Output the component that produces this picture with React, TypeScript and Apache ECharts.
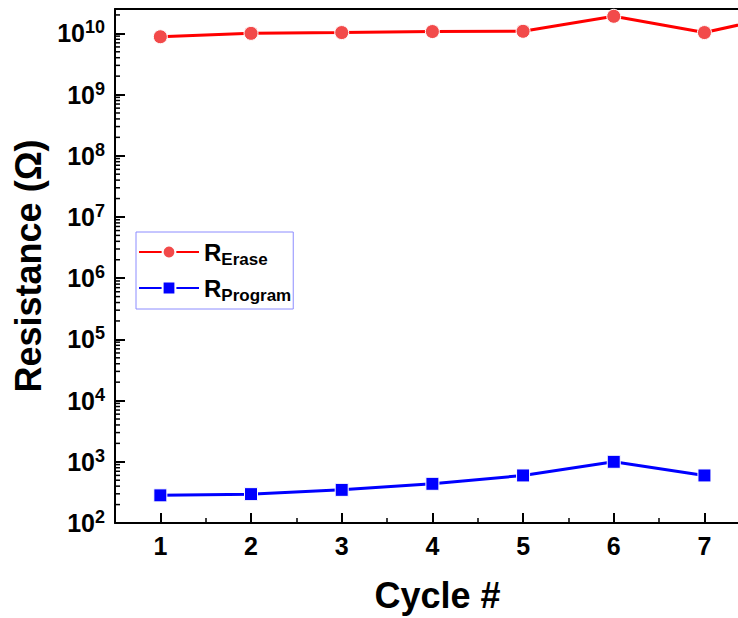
import React, { useEffect, useRef } from 'react';
import * as echarts from 'echarts';

// Cycle numbers and measured resistances (Ω)
const eraseCycles = [1, 2, 3, 4, 5, 6, 7, 8];
const eraseResistance = [8.8e9, 1.0e10, 1.03e10, 1.07e10, 1.08e10, 1.9e10, 1.03e10, 2.2e10];
const programCycles = [1, 2, 3, 4, 5, 6, 7];
const programResistance = [283, 296, 348, 437, 598, 1000, 598];

// Axis ticks
const cycleTicks = [1, 2, 3, 4, 5, 6, 7];
const cycleMinorTicks = [1.5, 2.5, 3.5, 4.5, 5.5, 6.5];
const decadeExponents = [2, 3, 4, 5, 6, 7, 8, 9, 10];
const minorMantissas = [2, 3, 4, 5, 6, 7, 8, 9];

const X_MIN = 0.5;
const X_MAX = 7.37;
const Y_MIN = 1e2;
const Y_MAX = 2.5e10;

const FONT = 'Arial, "Liberation Sans", Helvetica, sans-serif';

const logMinorTicks: number[] = [];
decadeExponents.forEach((e) => {
  minorMantissas.forEach((m) => {
    const v = m * Math.pow(10, e);
    if (v < Y_MAX) logMinorTicks.push(v);
  });
});

export default function App() {
  const ref = useRef<HTMLDivElement>(null);

  useEffect(() => {
    if (!ref.current) return;
    const chart = echarts.init(ref.current, null, { renderer: 'svg' });

    const option: any = {
      animation: false,
      backgroundColor: '#ffffff',
      grid: {
        left: 115,
        top: 9,
        right: 0,
        bottom: 93,
      },
      legend: {
        data: ['Erase', 'Program'],
        orient: 'vertical',
        left: 136,
        top: 232,
        itemWidth: 60,
        itemHeight: 16,
        itemGap: 8,
        padding: [8, 2, 5, 2],
        borderColor: '#8c8cff',
        borderWidth: 1,
        formatter: (name: string) => `{r|R}{s|${name}}`,
        textStyle: {
          fontFamily: FONT,
          rich: {
            r: { fontSize: 24, fontWeight: 'bold', color: '#000', lineHeight: 32, fontFamily: FONT },
            s: {
              fontSize: 17,
              fontWeight: 'bold',
              color: '#000',
              lineHeight: 16,
              verticalAlign: 'bottom',
              fontFamily: FONT,
            },
          },
        },
      },
      xAxis: [
        {
          type: 'value',
          min: X_MIN,
          max: X_MAX,
          name: 'Cycle #',
          nameLocation: 'middle',
          nameGap: 54,
          nameTextStyle: {
            fontFamily: FONT,
            fontSize: 36,
            fontWeight: 'bold',
            color: '#000',
            padding: [0, 0, 0, 22],
          },
          axisLine: { show: true, lineStyle: { color: '#000', width: 2 } },
          axisTick: {
            show: true,
            inside: true,
            length: 10,
            customValues: cycleTicks,
            lineStyle: { color: '#000', width: 2 },
          },
          axisLabel: {
            customValues: cycleTicks,
            margin: 10,
            fontFamily: FONT,
            fontSize: 25,
            fontWeight: 'bold',
            color: '#000',
          },
          splitLine: { show: false },
        },
        {
          type: 'value',
          min: X_MIN,
          max: X_MAX,
          position: 'bottom',
          axisLine: { show: false },
          axisTick: {
            show: true,
            inside: true,
            length: 5,
            customValues: cycleMinorTicks,
            lineStyle: { color: '#000', width: 1.5 },
          },
          axisLabel: { show: false },
          splitLine: { show: false },
        },
        {
          // top frame line
          type: 'value',
          min: X_MIN,
          max: X_MAX,
          position: 'top',
          axisLine: { show: true, lineStyle: { color: '#000', width: 2 } },
          axisTick: { show: false },
          axisLabel: { show: false },
          splitLine: { show: false },
        },
      ],
      yAxis: {
        type: 'log',
        logBase: 10,
        min: Y_MIN,
        max: Y_MAX,
        interval: 1,
        name: 'Resistance (Ω)',
        nameLocation: 'middle',
        nameRotate: 90,
        nameGap: 64,
        nameTextStyle: {
          fontFamily: FONT,
          fontSize: 36,
          fontWeight: 'bold',
          color: '#000',
        },
        axisLine: { show: true, lineStyle: { color: '#000', width: 2 } },
        axisTick: { show: true, inside: true, length: 10, lineStyle: { color: '#000', width: 2 } },
        axisLabel: {
          margin: 10,
          showMaxLabel: false,
          formatter: (v: number) => `{b|10}{s|${Math.round(Math.log10(v))}}`,
          rich: {
            b: { fontSize: 25, fontWeight: 'bold', color: '#000', lineHeight: 30, fontFamily: FONT },
            s: {
              fontSize: 18,
              fontWeight: 'bold',
              color: '#000',
              lineHeight: 17,
              verticalAlign: 'top',
              fontFamily: FONT,
            },
          },
        },
        splitLine: { show: false },
        minorTick: { show: false },
      },
      series: [
        {
          name: 'Erase',
          type: 'line',
          data: eraseCycles.map((c, i) => [c, eraseResistance[i]]),
          symbol: 'circle',
          symbolSize: 14,
          clip: true,
          itemStyle: { color: '#f24a4a', borderColor: '#fff', borderWidth: 1 },
          lineStyle: { color: '#ff0000', width: 3 },
          z: 4,
        },
        {
          name: 'Program',
          type: 'line',
          data: programCycles.map((c, i) => [c, programResistance[i]]),
          symbol: 'rect',
          symbolSize: 13,
          clip: true,
          itemStyle: { color: '#0000ff', borderColor: '#fff', borderWidth: 1 },
          lineStyle: { color: '#0000ff', width: 3 },
          z: 4,
        },
        {
          // minor ticks of the log axis at 2..9 × 10^n
          name: 'logMinorTicks',
          type: 'custom',
          silent: true,
          data: logMinorTicks.map((v) => [X_MIN, v]),
          renderItem: (_params: any, api: any) => {
            const p = api.coord([api.value(0), api.value(1)]);
            return {
              type: 'line',
              shape: { x1: p[0], y1: p[1], x2: p[0] + 5, y2: p[1] },
              style: { stroke: '#000', lineWidth: 1.5 },
            };
          },
          z: 2,
        },
      ],
    };

    chart.setOption(option);
    return () => chart.dispose();
  }, []);

  return (
    <div
      ref={ref}
      style={{ position: 'fixed', left: 0, top: 0, width: 738, height: 618, background: '#fff' }}
    />
  );
}
